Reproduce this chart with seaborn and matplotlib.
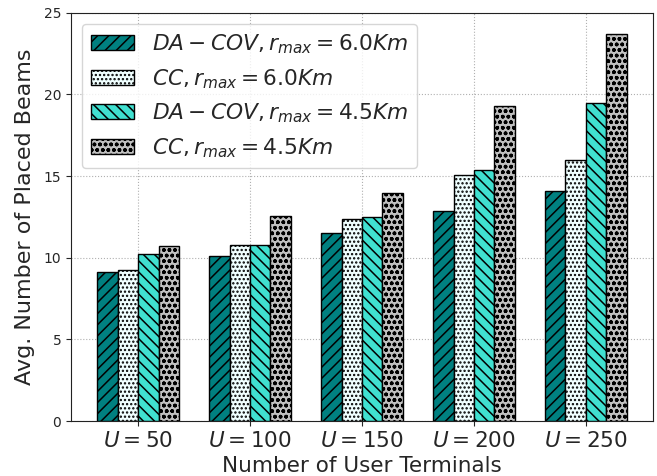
import matplotlib
matplotlib.use("Agg")
import matplotlib.pyplot as plt
import seaborn as sns
import pandas as pd
from matplotlib.patches import Patch

categories = ["$U=50$", "$U=100$", "$U=150$", "$U=200$", "$U=250$"]
series_names = [r"$DA-COV, r_{max}=6.0Km$", r"$CC, r_{max}=6.0Km$",
                r"$DA-COV, r_{max}=4.5Km$", r"$CC, r_{max}=4.5Km$"]
da_cov_6 = [9.12, 10.13, 11.53, 12.84, 14.07]
cc_6 = [9.27, 10.79, 12.38, 15.05, 15.99]
da_cov_45 = [10.2, 10.77, 12.51, 15.4, 19.45]
cc_45 = [10.73, 12.53, 13.94, 19.27, 23.71]

colors = ["#008080", "#F0FFFF", "#40E0D0", "#C0C0C0"]
hatches = ["///", "....", "\\\\\\", "ooo"]

rows = []
for name, vals in zip(series_names, [da_cov_6, cc_6, da_cov_45, cc_45]):
    for c, v in zip(categories, vals):
        rows.append({"cat": c, "series": name, "val": v})
df = pd.DataFrame(rows)

sns.set_style("ticks")
plt.rcParams["hatch.linewidth"] = 1.1
fig, ax = plt.subplots(figsize=(6.57, 4.76), dpi=100)
fig.subplots_adjust(left=0.108, right=0.994, top=0.973, bottom=0.1155)

sns.barplot(data=df, x="cat", y="val", hue="series", order=categories,
            hue_order=series_names, palette=colors, width=0.73,
            edgecolor="black", linewidth=1.0, legend=False, ax=ax)

for cont, col, h in zip(ax.containers, colors, hatches):
    for p in cont:
        p.set_facecolor(col)
        p.set_hatch(h)
        p.set_edgecolor("black")

ax.set_xlim(-0.6, 4.6)
ax.set_ylim(0, 25)
ax.set_yticks([0, 5, 10, 15, 20, 25])
ax.set_axisbelow(True)
ax.grid(True, linestyle=":", color="#b0b0b0", linewidth=0.8)
for s in ax.spines.values():
    s.set_color("#222222")
ax.tick_params(axis="x", labelsize=15.5)
ax.tick_params(axis="y", labelsize=10)
ax.set_xlabel("Number of User Terminals", fontsize=15.5, labelpad=4)
ax.set_ylabel("Avg. Number of Placed Beams", fontsize=16, labelpad=6)

handles = [Patch(facecolor=c, edgecolor="black", hatch=h, label=n)
           for c, h, n in zip(colors, hatches, series_names)]
ax.legend(handles=handles, loc="upper left", fontsize=15.7, frameon=True)

fig.savefig("out.png", dpi=100)
